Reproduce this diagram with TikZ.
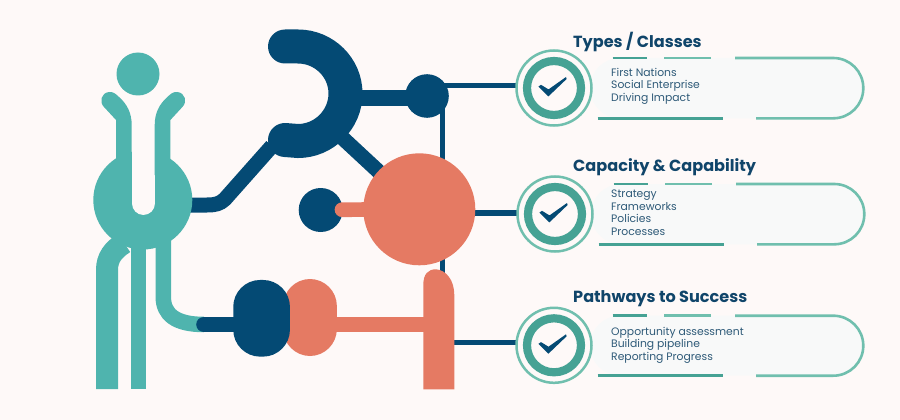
\documentclass[tikz,border=0pt]{standalone}
\usepackage{fontspec}
\setmainfont{Poppins}
\definecolor{bgc}{HTML}{FEF9F8}
\definecolor{cardc}{HTML}{F8F9F9}
\definecolor{tealc}{HTML}{4FB4AE}
\definecolor{navyc}{HTML}{044A74}
\definecolor{coralc}{HTML}{E57A63}
\definecolor{darkt}{HTML}{46A294}
\definecolor{lightt}{HTML}{70BFAE}
\definecolor{titlec}{HTML}{10456A}
\definecolor{itemc}{HTML}{2E5A78}
\tikzset{
  disc/.style={circle,inner sep=0pt,minimum size=#1},
  pill/.style={rectangle,inner sep=0pt,rounded corners=27pt},
  link/.style={draw=navyc,line width=5.5pt},
  titletxt/.style={anchor=west,inner sep=0pt,text=titlec,font=\fontsize{16.1}{18}\selectfont\bfseries},
  itemtxt/.style={anchor=north west,inner sep=0pt,align=left,text=itemc,font=\fontsize{10.8}{12.6}\selectfont},
  segd/.style={draw=darkt,line width=2.6pt},
  segl/.style={draw=lightt,line width=2.6pt},
}
% #1 name, #2 dx, #3 cy(ring), #4 top, #5 bottom
\newcommand{\cardshape}[5]{%
  \fill[cardc,rounded corners=30pt] (590+#2,#4) -- (863.3+#2,#4) -- (863.3+#2,#5) -- (590+#2,#5) -- cycle;
  \draw[segd] (612.7+#2,#4) -- (647.3+#2,#4);
  \draw[segl] (664.3+#2,#4) -- (711.3+#2,#4);
  \draw[segl,rounded corners=30pt] (735+#2,#4) -- (863.3+#2,#4) -- (863.3+#2,#5) -- (756+#2,#5);
  \draw[segd] (597.7+#2,#5) -- (723.3+#2,#5);
  \node[disc=75pt,fill=bgc,draw=lightt,line width=2.5pt] (#1ring) at (554+#2,#3) {};
  \node[disc=54pt,draw=darkt,line width=8.2pt,fill=bgc] (#1core) at (#1ring.center) {};
  \fill[navyc] ([shift={(-15.6,-1.4)}]#1ring.center) -- ([shift={(-13,-3.2)}]#1ring.center) -- ([shift={(-5.5,1.4)}]#1ring.center) -- ([shift={(12,-11)}]#1ring.center) -- ([shift={(12.6,-9)}]#1ring.center) -- ([shift={(-5.6,8.4)}]#1ring.center) -- cycle;
}
\begin{document}
\begin{tikzpicture}[x=1pt,y=-1pt]
\path[use as bounding box,fill=bgc] (0,0) rectangle (900,420);
% anchors of the thin links
\coordinate (hubr) at (427,85.5);
\coordinate (busT) at (442.5,100);
\coordinate (busB) at (442.5,290);
\coordinate (bigr) at (470,213);
\coordinate (stemr) at (450,342.7);
\coordinate (r1) at (520,85.5);
\coordinate (r2) at (520,213);
\coordinate (r3) at (520,342.7);
% thin navy links
\draw[link] (hubr) -- (r1);
\draw[link] (busT) -- (busB);
\draw[link] (bigr) -- (r2);
\draw[link] (stemr) -- (r3);
% cards
\cardshape{a}{0}{88}{58}{118.3}
\cardshape{b}{1}{214}{184}{244.3}
\cardshape{c}{0}{345.3}{315.7}{375.7}
\node[titletxt] (t1) at (573,41.5) {Types / Classes};
\node[titletxt] (t2) at (573,166.8) {Capacity \& Capability};
\node[titletxt] (t3) at (573,298.8) {Pathways to Success};
\node[itemtxt] (i1) at (611,67.8) {First Nations\\Social Enterprise\\Driving Impact};
\node[itemtxt] (i2) at (611,189.8) {Strategy\\Frameworks\\Policies\\Processes};
\node[itemtxt] (i3) at (611,326.8) {Opportunity assessment\\Building pipeline\\Reporting Progress};
% navy hook and its links
\coordinate (arcjoin) at (345,98);
\coordinate (bodyr) at (185,205);
\coordinate (hookl) at (272,146);
\coordinate (hookd) at (335,131);
\node[disc=43.6pt,fill=navyc] (hub) at (427,96) {};
\draw[navyc,line width=15pt] (arcjoin) -- (arcjoin -| hub.center);
\draw[navyc,line width=15pt,line join=round] (bodyr) -- (207,205) .. controls (215,205) and (220,204) .. (225,199) -- (hookl);
\draw[navyc,line width=34pt,line cap=round] (285,46.5) -- (298,46.5) .. controls (324,46.5) and (345.5,67.5) .. (345.5,93.5) .. controls (345.5,119.5) and (324,141) .. (298,141) -- (285,140);
\node[disc=44pt,fill=navyc] (small) at (320.7,210) {};
\coordinate (bigc) at (419.3,209.3);
\draw[navyc,line width=15pt] (hookd) -- (bigc);
\draw[coralc,line width=14.7pt,line cap=round] (342,209.7) -- (bigc);
\node[disc=112pt,fill=coralc] (big) at (bigc) {};
% lower assembly
\coordinate (stub) at (204,324.5);
\coordinate (tbar) at (430,324);
\node[pill,fill=coralc,minimum width=53.7pt,minimum height=77pt] (cpill) at (310,317.5) {};
\draw[coralc,line width=15pt] (cpill.center |- tbar) -- (tbar);
\fill[coralc] (423.3,389.3) -- (423.3,285) .. controls (423.3,274) and (428,269.3) .. (436,269.3) .. controls (446,270) and (454.3,280) .. (454.3,295) -- (454.3,389.3) -- cycle;
% teal figure
\node[disc=43pt,fill=tealc] (head) at (138,74) {};
\draw[tealc,line width=15.5pt] (163.3,240) -- (163.3,297) .. controls (163.3,314) and (175,324.5) .. (204,324.5);
\node[pill,fill=navyc,minimum width=56.7pt,minimum height=76.7pt] (npill) at (261.6,318.3) {};
\draw[navyc,line width=15.6pt,line cap=round] (stub) -- (stub -| npill.center);
\draw[tealc,line width=22pt] (107,389) -- (107,270) .. controls (107,258) and (113,250) .. (124,243);
\draw[tealc,line width=15.5pt] (138.3,240) -- (138.3,389);
\node[disc=99pt,fill=tealc] (body) at (142.8,200) {};
\draw[bgc,line width=23.3pt,line cap=round] (143.3,135) -- (143.3,203.3);
\fill[tealc] (116,175) -- (116,120) -- (104,107) .. controls (99,102) and (101,93) .. (109,92) .. controls (113,91.5) and (116,94) .. (119,97) .. controls (127,104) and (131.7,113) .. (131.7,125) -- (131.7,175) -- cycle;
\fill[tealc] (170.4,175) -- (170.4,120) -- (182.4,107) .. controls (187.4,102) and (185.4,93) .. (177.4,92) .. controls (173.4,91.5) and (170.4,94) .. (167.4,97) .. controls (159.4,104) and (154.7,113) .. (154.7,125) -- (154.7,175) -- cycle;
\end{tikzpicture}
\end{document}
